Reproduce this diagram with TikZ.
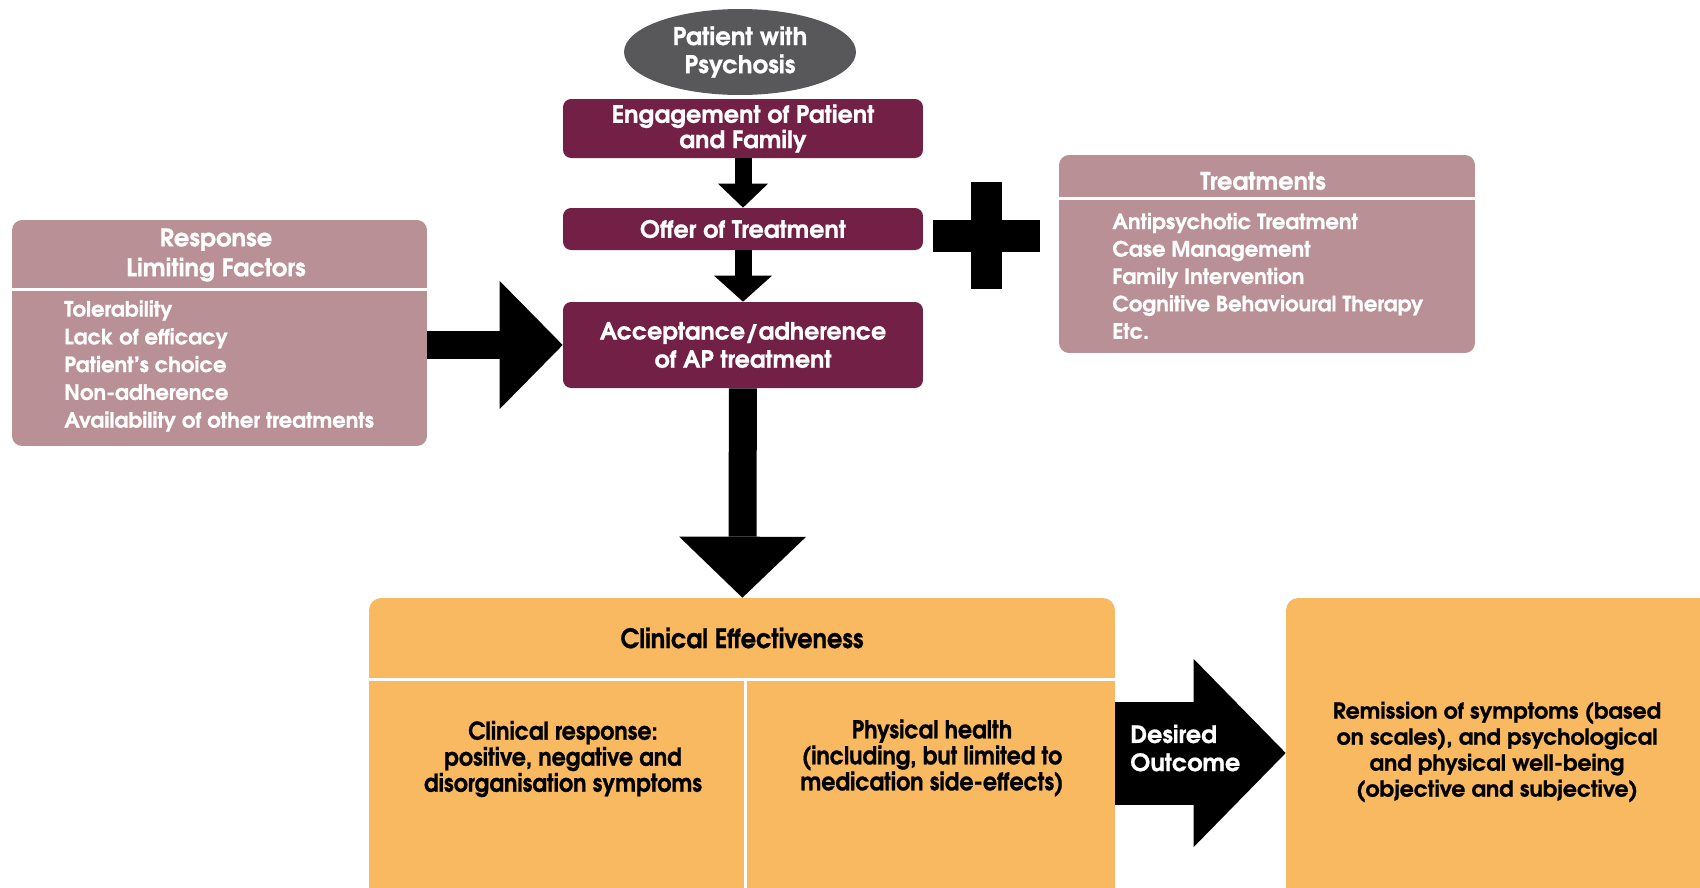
\documentclass[tikz,border=0pt]{standalone}
\usepackage{fontspec}
\setmainfont{TeX Gyre Adventor}[BoldFeatures={FakeBold=0.8}]
\newfontfamily\narrowfont{TeX Gyre Adventor}[FakeStretch=0.9,BoldFeatures={FakeBold=0.8}]
\usetikzlibrary{shapes,calc,arrows.meta}

\definecolor{maroon}{HTML}{722045}
\definecolor{mauve}{HTML}{B89096}
\definecolor{amber}{HTML}{F8B961}
\definecolor{slate}{HTML}{58585A}

\tikzset{
  stage/.style={rectangle,rounded corners=0.16cm,fill=maroon,text=white,
    font=\bfseries\fontsize{13.6}{14.4}\selectfont,align=center,
    minimum width=7.2cm,inner sep=0pt},
  panel/.style={rectangle,rounded corners=0.2cm,fill=mauve,inner sep=0pt},
  paneltext/.style={text=white,font=\bfseries\fontsize{12}{15.8}\selectfont,inner sep=0pt},
  outcome/.style={rectangle,rounded corners=0.24cm,fill=amber,inner sep=0pt},
  outtext/.style={text=black,align=center,inner sep=0pt},
  divider/.style={white,line width=0.06cm}
}

\begin{document}
\begin{tikzpicture}[x=0.02cm,y=-0.02cm]
  \clip (0,0) rectangle (1700,887);

  % main column
  \node[ellipse,fill=slate,text=white,align=center,inner sep=0pt,
    minimum width=4.64cm,minimum height=1.72cm,
    font=\bfseries\fontsize{13.9}{16}\selectfont] (patient) at (740,52) {Patient with\\Psychosis};
  \node[stage,minimum height=1.18cm] (engage) at (743,128.5) {Engagement of Patient\\and Family};
  \node[stage,minimum height=0.84cm] (offer) at (743,229) {Offer of Treatment};
  \node[stage,minimum height=1.72cm,font=\bfseries\fontsize{13.5}{16}\selectfont] (accept) at (743,345) {Acceptance/adherence\\of AP treatment};

  % response limiting factors
  \node[panel,minimum width=8.3cm,minimum height=4.52cm] (resp) at (219.5,333) {};
  \node[paneltext,align=center,font=\bfseries\fontsize{13.8}{17}\selectfont] (resptitle) at (216,255) {Response\\Limiting Factors};
  \draw[divider] (resp.west |- 0,289) -- (resp.east |- 0,289);
  \node[paneltext,align=left,anchor=west] (resplist) at (64,366)
    {Tolerability\\Lack of efficacy\\Patient’s choice\\Non-adherence\\Availability of other treatments};

  % treatments
  \node[panel,minimum width=8.32cm,minimum height=3.96cm] (treat) at (1267,254) {};
  \node[paneltext,font=\bfseries\fontsize{13.7}{15}\selectfont] (treattitle) at (1263,181) {Treatments};
  \draw[divider] (treat.west |- 0,198) -- (treat.east |- 0,198);
  \node[paneltext,align=left,anchor=west,font=\bfseries\fontsize{12}{15.6}\selectfont] (treatlist) at (1112,276)
    {Antipsychotic Treatment\\Case Management\\Family Intervention\\Cognitive Behavioural Therapy\\Etc.};

  % plus sign
  \fill (971,182) rectangle (1002,289);
  \fill (933,220) rectangle (1040,252);

  % outcomes
  \node[outcome,minimum width=14.92cm,minimum height=6.2cm] (clinic) at (742,753) {};
  \draw[divider] (clinic.west |- 0,679) -- (clinic.east |- 0,679);
  \draw[divider] (745,679) -- (745,900);
  \node[outtext,font=\narrowfont\bfseries\fontsize{15.2}{16}\selectfont] (clinictitle) at (742,638) {Clinical Effectiveness};
  \node[outtext,font=\narrowfont\bfseries\fontsize{14}{14.8}\selectfont] (response) at (563,759)
    {Clinical response:\\positive, negative and\\disorganisation symptoms};
  \node[outtext,font=\narrowfont\bfseries\fontsize{14}{14.8}\selectfont] (physical) at (932,758)
    {Physical health\\(including, but limited to\\medication side-effects)};

  \node[outcome,minimum width=8.5cm,minimum height=6.2cm] (remit) at (1498.5,753) {};
  \node[outtext,font=\bfseries\fontsize{12.5}{14.8}\selectfont] (remittext) at (1497,752)
    {Remission of symptoms (based\\on scales), and psychological\\and physical well-being\\(objective and subjective)};

  % block arrows
  \draw[line width=0.34cm,-{Triangle[width=1cm,length=0.48cm,line width=0pt]}] (engage) -- (offer);
  \draw[line width=0.34cm,-{Triangle[width=1.16cm,length=0.52cm,line width=0pt]}] (offer) -- (accept);
  \draw[line width=0.56cm,-{Triangle[width=2.54cm,length=1.22cm,line width=0pt]}] (accept) -- (clinic);
  \draw[line width=0.56cm,-{Triangle[width=2.56cm,length=1.26cm,line width=0pt]}] (resp.east |- accept) -- (accept.west);
  \draw[line width=2.06cm,-{Triangle[width=3.76cm,length=1.84cm,line width=0pt]}] (clinic.east |- remit) -- (remit.west);
  \node[text=white,align=left,anchor=west,inner sep=0pt,
    font=\bfseries\fontsize{13.6}{16}\selectfont] (desired) at (1130,748) {Desired\\Outcome};
\end{tikzpicture}
\end{document}
